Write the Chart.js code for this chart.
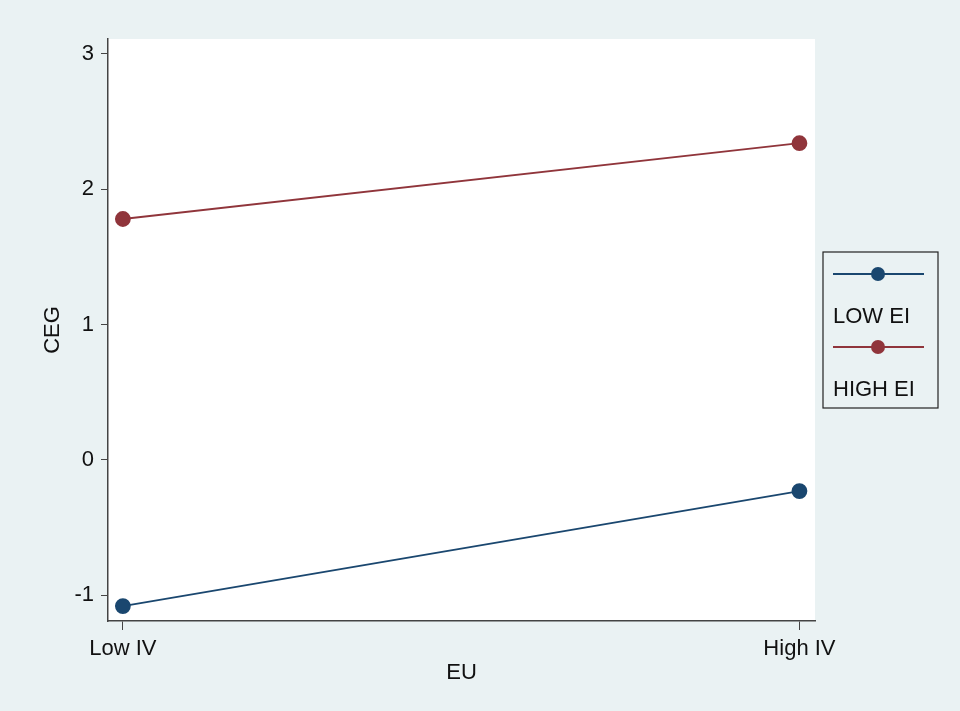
<!DOCTYPE html>
<html>
<head>
<meta charset="utf-8">
<script src="https://cdn.jsdelivr.net/npm/chart.js@4/dist/chart.umd.min.js"></script>
<style>
  html, body { margin: 0; padding: 0; background: #eaf2f3; }
  #wrap { width: 960px; height: 711px; }
</style>
</head>
<body>
<div id="wrap"><canvas id="c" width="960" height="711"></canvas></div>
<script>
// categories and series
const xLabels = ["Low IV", "High IV"];
const yTicks = [-1, 0, 1, 2, 3];
const lowEI = [-1.08, -0.23];
const highEI = [1.78, 2.34];
const seriesNames = ["LOW EI", "HIGH EI"];

const BLUE = "#1a476f";
const RED = "#90353b";
const FONT = "'Liberation Sans', Arial, sans-serif";

const toPts = arr => arr.map((v, i) => ({ x: i, y: v }));

// white plot region
const plotBg = {
    id: "plotBg",
    beforeDraw(chart) {
        const a = chart.chartArea, ctx = chart.ctx;
        ctx.save();
        ctx.fillStyle = "#ffffff";
        ctx.fillRect(a.left, a.top, a.right - a.left, a.bottom - a.top);
        ctx.restore();
    }
};

// stata-like legend: symbol above label, in a box to the right
const sideLegend = {
    id: "sideLegend",
    afterDraw(chart) {
        const a = chart.chartArea, ctx = chart.ctx;
        const x0 = a.right + 8, y0 = 252, w = 115, h = 156;
        ctx.save();
        ctx.strokeStyle = "#222";
        ctx.lineWidth = 1.2;
        ctx.strokeRect(x0, y0, w, h);
        chart.data.datasets.forEach((ds, i) => {
            const ly = y0 + 22 + i * 73;
            ctx.strokeStyle = ds.borderColor;
            ctx.lineWidth = 2;
            ctx.beginPath();
            ctx.moveTo(x0 + 10, ly);
            ctx.lineTo(x0 + 101, ly);
            ctx.stroke();
            ctx.fillStyle = ds.pointBackgroundColor;
            ctx.beginPath();
            ctx.arc(x0 + 55, ly, 7, 0, Math.PI * 2);
            ctx.fill();
            ctx.fillStyle = "#111";
            ctx.font = "22px " + FONT;
            ctx.textBaseline = "middle";
            ctx.fillText(ds.label, x0 + 10, ly + 43);
        });
        ctx.restore();
    }
};

new Chart(document.getElementById("c"), {
    type: "line",
    data: {
        datasets: [
            {
                label: seriesNames[0],
                data: toPts(lowEI),
                borderColor: BLUE,
                pointBackgroundColor: BLUE,
                pointBorderColor: BLUE,
                pointRadius: 7,
                borderWidth: 1.8
            },
            {
                label: seriesNames[1],
                data: toPts(highEI),
                borderColor: RED,
                pointBackgroundColor: RED,
                pointBorderColor: RED,
                pointRadius: 7,
                borderWidth: 1.8
            }
        ]
    },
    options: {
        responsive: false,
        animation: false,
        layout: { padding: { left: 0, top: 39, right: 145, bottom: 0 } },
        plugins: {
            legend: { display: false },
            tooltip: { enabled: false }
        },
        scales: {
            x: {
                type: "linear",
                min: -0.022,
                max: 1.023,
                afterBuildTicks: s => { s.ticks = xLabels.map((_, i) => ({ value: i })); },
                afterFit: s => { s.height = 90; },
                ticks: {
                    callback: v => xLabels[v],
                    color: "#111",
                    font: { family: FONT, size: 22 },
                    padding: 6,
                    maxRotation: 0
                },
                grid: { drawOnChartArea: false, drawTicks: true, tickLength: 9, color: "#444" },
                border: { display: true, color: "#444", width: 1.5 },
                title: {
                    display: true, text: "EU", color: "#111",
                    font: { family: FONT, size: 22 }, padding: { top: 0, bottom: 25 }
                }
            },
            y: {
                min: -1.19,
                max: 3.11,
                afterBuildTicks: s => { s.ticks = yTicks.map(v => ({ value: v })); },
                afterFit: s => { s.width = 108; },
                ticks: {
                    color: "#111",
                    font: { family: FONT, size: 22 },
                    padding: 7
                },
                grid: { drawOnChartArea: false, drawTicks: true, tickLength: 7, color: "#444" },
                border: { display: true, color: "#444", width: 1.5 },
                title: {
                    display: true, text: "CEG", color: "#111",
                    font: { family: FONT, size: 22 }, padding: { top: 40, bottom: 0 }
                }
            }
        }
    },
    plugins: [plotBg, sideLegend]
});
</script>
</body>
</html>
